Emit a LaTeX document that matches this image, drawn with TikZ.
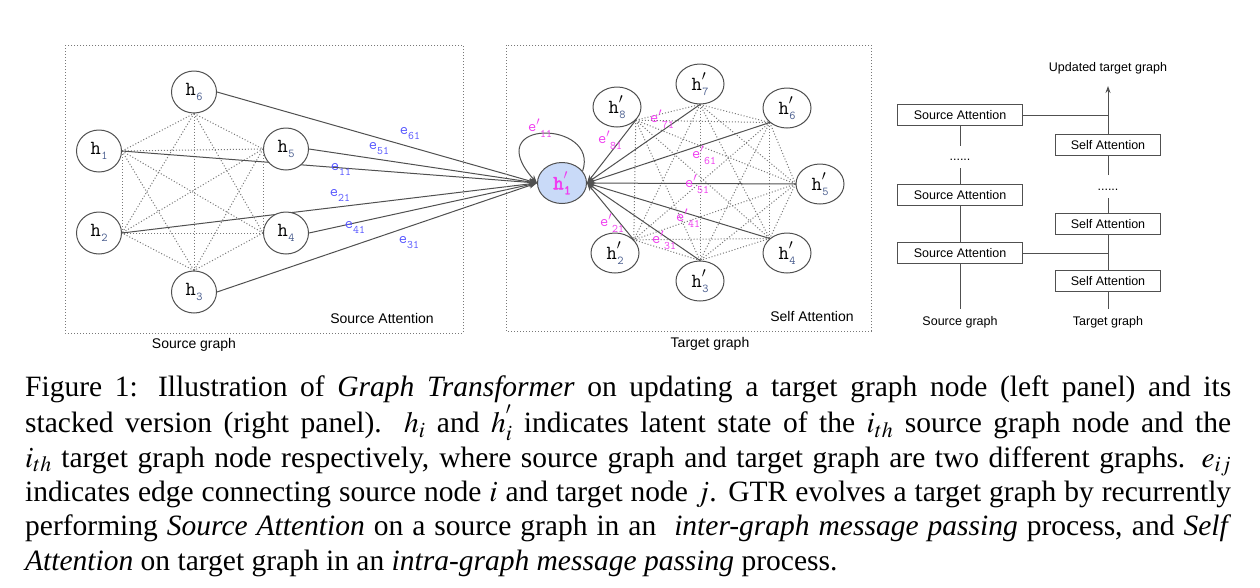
\documentclass[tikz,border=0pt]{standalone}
\usepackage{mathptmx}
\usepackage[no-math]{fontspec}
\setmainfont{Liberation Serif}
\newfontfamily\arial{Liberation Sans}
\newfontfamily\ttbold[FakeBold=3]{Latin Modern Mono}
\usetikzlibrary{shapes.geometric,arrows.meta,backgrounds}
\definecolor{edgegray}{RGB}{80,80,80}
\definecolor{dotgray}{RGB}{120,120,120}
\definecolor{eblue}{RGB}{85,85,255}
\definecolor{epink}{RGB}{240,60,240}
\definecolor{subc}{RGB}{70,90,140}
\definecolor{nodefill}{RGB}{201,218,248}
\newcommand{\hl}[1]{{\fontsize{20}{20}\selectfont\ttfamily h}\kern0.5pt\raisebox{-5pt}{\fontsize{12}{12}\selectfont\ttfamily\color{subc}#1}}
\newcommand{\hp}[1]{{\fontsize{20}{20}\selectfont\ttfamily h}\rlap{\raisebox{3pt}{\fontsize{19}{19}\selectfont$^{\prime}$}}\kern0.5pt\raisebox{-5pt}{\fontsize{12}{12}\selectfont\ttfamily\color{subc}#1}}
\newcommand{\hpb}[1]{{\fontsize{20}{20}\selectfont\ttbold h}\rlap{\raisebox{3pt}{\fontsize{19}{19}\selectfont$^{\prime}$}}\kern0.5pt\raisebox{-5pt}{\fontsize{13}{13}\selectfont\ttbold #1}}
\newcommand{\el}[1]{{\fontsize{16}{16}\selectfont\ttfamily e}\raisebox{-5pt}{\fontsize{11.5}{11.5}\selectfont\ttfamily #1}}
\newcommand{\ep}[1]{{\fontsize{16}{16}\selectfont\ttfamily e}{\fontsize{16}{16}\selectfont$^{\prime}$}\raisebox{-6pt}{\fontsize{11.5}{11.5}\selectfont\ttfamily #1}}
\begin{document}
\begin{tikzpicture}[x=1pt,y=-1pt,
  snode/.style={ellipse,draw=edgegray,line width=1pt,fill=white,minimum width=45pt,minimum height=42pt,inner sep=0pt},
  tnode/.style={snode,minimum width=48pt,minimum height=40pt},
  panelbox/.style={draw=dotgray,dotted,line width=1pt},
  dotedge/.style={draw=dotgray,dotted,line width=1pt},
  solidedge/.style={draw=edgegray,line width=1pt},
  arr/.style={solidedge,-{Stealth[length=8pt,width=6pt]}},
  sabox/.style={draw=edgegray,line width=0.9pt,fill=white,minimum width=125pt,minimum height=21pt,inner sep=0pt,font=\arial\fontsize{12.5}{12.5}\selectfont},
  selfbox/.style={sabox,minimum width=105pt},
  lab/.style={inner sep=0pt,font=\arial\fontsize{14}{14}\selectfont},
  slab/.style={inner sep=0pt,font=\arial\fontsize{12.5}{12.5}\selectfont},
  elab/.style={inner sep=0pt,text=eblue},
  eplab/.style={inner sep=0pt,text=epink}]
\useasboundingbox (0,0) rectangle (1260,587);
% panels
\draw[panelbox] (65,45) rectangle (463,333);
\draw[panelbox] (506,45) rectangle (871,331);
% source nodes
\node[snode] (h6) at (194,92) {\hl{6}};
\node[snode] (h1) at (99,151) {\hl{1}};
\node[snode] (h5) at (286,149) {\hl{5}};
\node[snode] (h2) at (99,233) {\hl{2}};
\node[snode] (h4) at (286,233) {\hl{4}};
\node[snode] (h3) at (194,292) {\hl{3}};
% target nodes
\node[snode,fill=nodefill,minimum width=49pt,minimum height=41pt,text=epink] (t1) at (562,183) {\hpb{1}};
\node[tnode] (t8) at (617,107) {\hp{8}};
\node[tnode] (t7) at (700,84) {\hp{7}};
\node[tnode] (t6) at (787,108) {\hp{6}};
\node[tnode] (t5) at (820,184) {\hp{5}};
\node[tnode] (t4) at (787,253) {\hp{4}};
\node[tnode] (t3) at (700,281) {\hp{3}};
\node[tnode] (t2) at (615,253) {\hp{2}};
\coordinate (p1) at (h1.east);
\coordinate (p2) at (h6.south);
\coordinate (p3) at (h5.west);
\coordinate (p4) at (h4.west);
\coordinate (p5) at (h3.north);
\coordinate (p6) at (h2.east);
\coordinate (q1) at (t8.-35);
\coordinate (q2) at (t7.south);
\coordinate (q3) at (t6.-140);
\coordinate (q4) at (t5.west);
\coordinate (q5) at (t4.140);
\coordinate (q6) at (t3.north);
\coordinate (q7) at (t2.35);
\begin{scope}[on background layer]
\fill[white] (0,0) rectangle (1260,587);
\foreach \i in {1,...,5}{\pgfmathtruncatemacro\s{\i+1}
  \foreach \j in {\s,...,6}{\draw[dotedge] (p\i) -- (p\j);}}
\foreach \i in {1,...,6}{\pgfmathtruncatemacro\s{\i+1}
  \foreach \j in {\s,...,7}{\draw[dotedge] (q\i) -- (q\j);}}
\foreach \n in {h6,h5,h1,h2,h4,h3}{\draw[arr] (\n.east) -- (t1.west);}
\foreach \n in {q1,q2,q3,q4,q5,q6,q7}{\draw[arr] (\n) -- (t1.east);}
\end{scope}
\draw[arr] (t1.30) .. controls (600,120) and (478,118) .. (t1.west);
% edge labels
\node[elab] (e61) at (410,134) {\el{61}};
\node[elab] (e51) at (379,149) {\el{51}};
\node[elab] (e11) at (341,169) {\el{11}};
\node[elab] (e21) at (340,195) {\el{21}};
\node[elab] (e41) at (355,227) {\el{41}};
\node[elab] (e31) at (409,243) {\el{31}};
\node[eplab] (f11) at (540,128) {\ep{11}};
\node[eplab] (f81) at (610,140) {\ep{81}};
\node[eplab] (f71) at (662,119) {\ep{71}};
\node[eplab] (f61) at (704,155) {\ep{61}};
\node[eplab] (f51) at (697,184) {\ep{51}};
\node[eplab] (f41) at (688,218) {\ep{41}};
\node[eplab] (f31) at (664,240) {\ep{31}};
\node[eplab] (f21) at (612,223) {\ep{21}};
% panel labels
\node[lab] (sal) at (382,318) {Source Attention};
\node[lab] (sgl) at (194,345) {Source graph};
\node[lab] (sfl) at (812,316) {Self Attention};
\node[lab] (tgl) at (710,344) {Target graph};
% right panel
\node[sabox] (s1) at (960,115) {Source Attention};
\node[sabox] (s2) at (960,195) {Source Attention};
\node[sabox] (s3) at (960,253) {Source Attention};
\node[selfbox] (g1) at (1108,145) {Self Attention};
\node[selfbox] (g2) at (1108,224) {Self Attention};
\node[selfbox] (g3) at (1108,281) {Self Attention};
\node[slab] (ldots) at (960,160) {......};
\node[slab] (rdots) at (1108,190) {......};
\node[slab] (srcg) at (960,322) {Source graph};
\node[slab] (tgtg) at (1108,322) {Target graph};
\node[slab] (upd) at (1108,68) {Updated target graph};
\coordinate (j1) at (1108,115);
\coordinate (j3) at (1108,253);
\coordinate (topc) at (1108,86);
\coordinate (sbot) at (960,309);
\coordinate (tbot) at (1108,309);
\coordinate (l1) at (960,146);
\coordinate (l2) at (960,168);
\coordinate (r1) at (1108,175);
\coordinate (r2) at (1108,198);
\draw[solidedge] (s1.south) -- (l1);
\draw[solidedge] (l2) -- (s2.north);
\draw[solidedge] (s2.south) -- (s3.north);
\draw[solidedge] (s3.south) -- (sbot);
\draw[solidedge] (g3.south) -- (tbot);
\draw[solidedge] (g3.north) -- (g2.south);
\draw[solidedge] (g2.north) -- (r2);
\draw[solidedge] (r1) -- (g1.south);
\draw[solidedge,-{Stealth[length=7pt,width=5pt]}] (g1.north) -- (topc);
\draw[solidedge] (s1.east) -- (j1);
\draw[solidedge] (s3.east) -- (j3);
% caption
\node[anchor=north west,text width=1206pt,align=justify,inner sep=0pt,font=\fontsize{29.5}{34.4}\selectfont] (cap) at (25,376) {Figure 1: Illustration of \textit{Graph Transformer} on updating a target graph node (left panel) and its\linebreak
stacked version (right panel). $h_i$ and $h^{'}_i$ indicates latent state of the $i_{th}$ source graph node and the\linebreak
$i_{th}$ target graph node respectively, where source graph and target graph are two different graphs. $e_{ij}$\linebreak
indicates edge connecting source node $i$ and target node $j$. GTR evolves a target graph by recurrently\linebreak
performing \textit{Source Attention} on a source graph in an \ \textit{inter-graph message passing} process, and \textit{Self}\linebreak
\textit{Attention} on target graph in an \textit{intra-graph message passing} process.};
\end{tikzpicture}
\end{document}
